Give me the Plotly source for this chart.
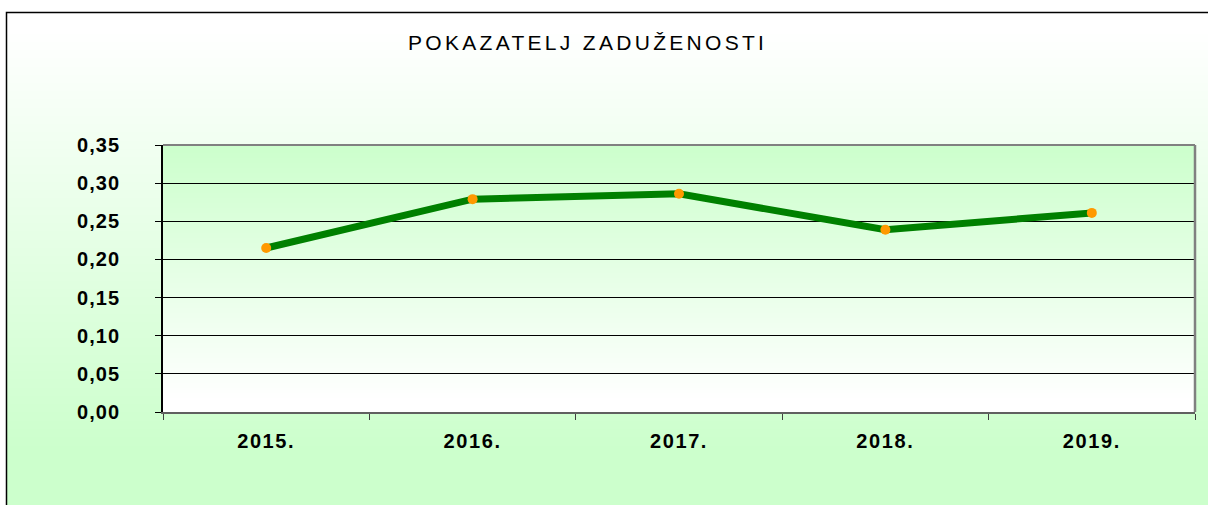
import base64
import struct
import zlib

import plotly.graph_objects as go

# ---------------- data ----------------
years = ["2015.", "2016.", "2017.", "2018.", "2019."]
debt_ratio = [0.215, 0.279, 0.286, 0.239, 0.261]
y_tick_vals = [0.00, 0.05, 0.10, 0.15, 0.20, 0.25, 0.30, 0.35]
y_tick_labels = ["0,00", "0,05", "0,10", "0,15", "0,20", "0,25", "0,30", "0,35"]
title_text = "POKAZATELJ ZADUŽENOSTI"

# ---------------- layout geometry (pixels) ----------------
W, H = 1208, 505
L, R, T, B = 163, 13, 145, 93
PW = W - L - R
PH = H - T - B


def px_x(px):
    return (px - L) / PW


def px_y(py):
    return (H - B - py) / PH


def png_uri(rows, width=2):
    raw = b"".join(b"\x00" + bytes(c) * width for c in rows)

    def chunk(t, d):
        return struct.pack(">I", len(d)) + t + d + struct.pack(">I", zlib.crc32(t + d) & 0xFFFFFFFF)

    png = (b"\x89PNG\r\n\x1a\n"
           + chunk(b"IHDR", struct.pack(">IIBBBBB", width, len(rows), 8, 2, 0, 0, 0))
           + chunk(b"IDAT", zlib.compress(raw))
           + chunk(b"IEND", b""))
    return "data:image/png;base64," + base64.b64encode(png).decode()


def mix(c1, c2, t):
    t = min(max(t, 0.0), 1.0)
    return tuple(int(round(a * (1 - t) + b * t)) for a, b in zip(c1, c2))


WHITE = (255, 255, 255)
LGREEN = (204, 255, 204)

outer_rows = [mix(WHITE, LGREEN, (py - 30) / (450 - 30)) for py in range(13, H + 1)]
plot_rows = [mix(LGREEN, WHITE, (py - T) / (400 - T)) for py in range(T, H - B + 1)]

fig = go.Figure()
fig.add_trace(go.Scatter(
    x=years, y=debt_ratio, mode="lines+markers",
    line=dict(color="#008000", width=7),
    marker=dict(color="#FF9900", size=10, line=dict(width=0)),
    hoverinfo="x+y", showlegend=False,
))

fig.update_layout(
    width=W, height=H, autosize=False,
    margin=dict(l=L, r=R, t=T, b=B, pad=0),
    paper_bgcolor="white",
    plot_bgcolor="rgba(0,0,0,0)",
    font=dict(family="Liberation Sans, Arial, sans-serif", color="#000000"),
    images=[
        dict(source=png_uri(outer_rows), xref="paper", yref="paper",
             x=px_x(6.5), y=px_y(12.5), sizex=(W + 10 - 6.5) / PW, sizey=(H - 12.5 + 1) / PH,
             xanchor="left", yanchor="top", sizing="stretch", layer="below"),
        dict(source=png_uri(plot_rows), xref="paper", yref="paper",
             x=0, y=1, sizex=1, sizey=1,
             xanchor="left", yanchor="top", sizing="stretch", layer="below"),
    ],
    shapes=[
        dict(type="rect", xref="paper", yref="paper",
             x0=px_x(6.5), x1=px_x(W + 20), y0=px_y(H + 20), y1=px_y(12.5),
             line=dict(color="#000000", width=1.5), fillcolor="rgba(0,0,0,0)", layer="above"),
        dict(type="line", xref="paper", yref="paper", x0=0, x1=1, y0=1, y1=1,
             line=dict(color="#808080", width=2), layer="above"),
        dict(type="line", xref="paper", yref="paper", x0=1, x1=1, y0=0, y1=1,
             line=dict(color="#808080", width=2.5), layer="above"),
    ],
    annotations=[
        dict(text="<span style='letter-spacing:3.3px'>" + title_text + "</span>",
             xref="paper", yref="paper", x=px_x(587), y=px_y(43),
             xanchor="center", yanchor="middle", showarrow=False,
             font=dict(size=21, color="#000000", family="Liberation Sans, Arial, sans-serif")),
    ],
)

fig.update_xaxes(
    type="category",
    tickvals=years,
    ticktext=["<span style='letter-spacing:1.6px'>" + y + "</span>" for y in years],
    tickson="boundaries",
    ticks="outside", ticklen=6, tickcolor="#404040", tickwidth=1,
    showline=True, linecolor="#606060", linewidth=2,
    showgrid=False, zeroline=False,
    tickfont=dict(size=20, weight="bold", color="#000000"),
    ticklabelstandoff=10,
    range=[-0.5, 4.5],
)

fig.update_yaxes(
    range=[0, 0.35],
    tickvals=y_tick_vals,
    ticktext=["<span style='letter-spacing:1.1px'>" + t + "</span>" for t in y_tick_labels],
    ticks="outside", ticklen=6, tickcolor="#000000", tickwidth=1,
    showline=True, linecolor="#000000", linewidth=1.5,
    showgrid=True, gridcolor="#000000", gridwidth=1,
    zeroline=False,
    tickfont=dict(size=20, weight="bold", color="#000000"),
    ticklabelstandoff=31,
)

fig.write_html("out.html")
